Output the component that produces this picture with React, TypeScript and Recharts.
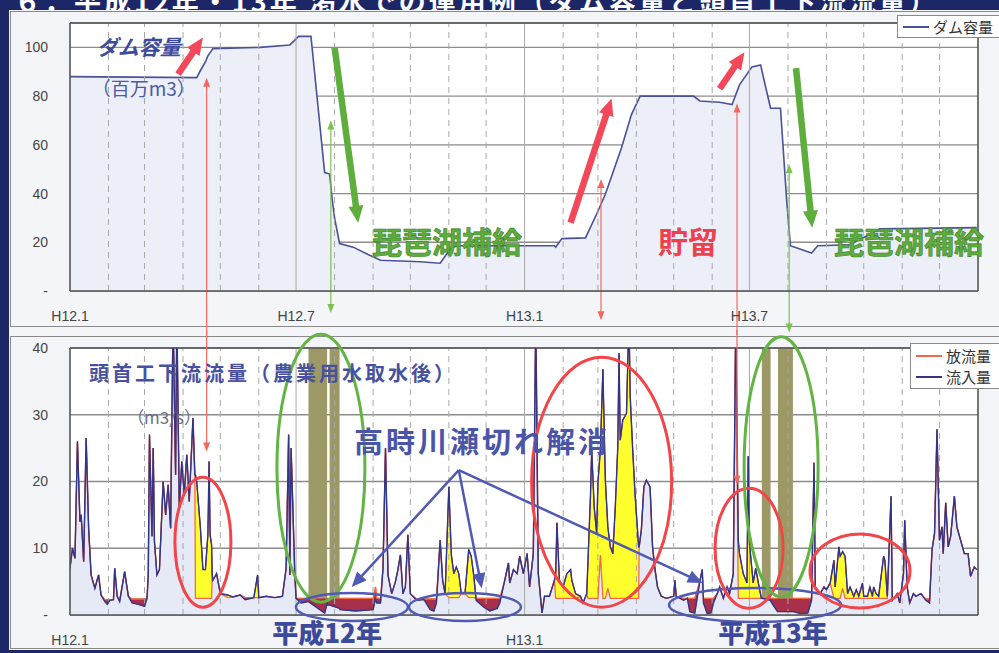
import React from "react";
import {
  ComposedChart,
  Area,
  Line,
  XAxis,
  YAxis,
  CartesianGrid,
  ReferenceLine,
  ReferenceDot,
} from "recharts";

// ---- axis data (days counted from 2000-01-01 = H12.1) ----
const monthStarts = [31, 60, 91, 121, 152, 182, 213, 244, 274, 305, 335, 366, 397, 425, 456, 486, 517, 547, 578, 609, 639, 670, 700];
const halfYearStarts = [182, 366, 547];
const tickDays = [0, 182, 366, 547];
const tickLabels = ["H12.1", "H12.7", "H13.1", "H13.7"];
const flowTickDays = [0, 366];
const damTicks = [0, 20, 40, 60, 80, 100];
const flowTicks = [0, 10, 20, 30, 40];

// ---- dam storage (百万m3) ----
const damDays = [
  0, 102, 105, 109, 111, 115, 153, 177, 181, 184, 194, 205, 209, 211, 213, 217, 228, 240, 250, 282, 298, 303, 308, 313, 390,
  391, 396, 415, 424, 431, 444, 452, 459, 502, 507, 523, 533, 539, 549, 556, 559, 564, 572, 577, 580, 597, 602, 628, 652, 730,
];
const damValues = [
  88, 87.6, 90.5, 94, 96.5, 99.5, 100, 101, 103, 104.5, 104.5, 48.6, 48, 38, 30, 19.5, 18, 15, 12.6, 12, 11.4, 15, 18, 18.6, 18.6,
  18, 21.5, 21.8, 31.6, 39.7, 58.8, 72.4, 80, 80, 78, 77.5, 76.5, 84.6, 92, 92.8, 86, 75, 75, 37, 18.6, 15.6, 18.6, 19, 25.5, 26,
];

// ---- flow below the headworks (m3/s) ----
const flowDays = [
  0, 2, 4, 6, 8, 9, 11, 13, 15, 17, 20, 23,
  25, 28, 30, 32, 35, 36, 38, 40, 44, 47, 50, 55,
  60, 62, 63, 64, 66, 67, 68, 70, 72, 75, 77, 79,
  81, 83, 85, 86, 88, 90, 92, 94, 96, 99, 100.5, 101,
  102, 105, 107, 109, 111, 112, 112.8, 114, 114.5, 115, 118, 121,
  127, 131, 137, 141, 148, 151, 152, 158, 165, 171, 174, 176,
  177, 178, 181, 182, 186, 191.5, 192, 205, 207, 207.4, 208.6, 209,
  217, 217.4, 230, 244, 246, 247, 250, 252, 254, 256, 259, 262,
  264, 266, 268, 270, 272, 274, 279, 285, 290, 293, 295, 298,
  300, 302, 305, 307, 309, 311, 313, 315, 318, 321, 323, 325,
  327, 333, 338, 344, 346, 350, 353, 354, 357, 360, 362, 365,
  368, 370, 373, 375, 377, 380, 382, 386, 390, 391, 392, 394,
  397, 400, 403, 404, 407, 411, 413, 416, 417, 419, 420, 422,
  424, 425, 427, 429, 431, 433, 435, 437, 439, 441, 442, 443,
  445, 448, 450, 451, 453, 455, 457.8, 458.2, 460, 462, 464, 467,
  469, 471, 473, 476, 480, 486, 487, 488, 494, 497, 499, 503,
  507, 509, 510, 513, 516, 518, 521, 523, 526, 529, 531, 534,
  536, 538, 539, 542, 545, 546, 547, 550, 552, 555, 556.6, 557,
  564, 564.4, 566, 569.6, 570, 582, 582.4, 588, 594, 597, 599, 600,
  604, 607, 609, 612, 615, 616, 619, 620, 622, 624, 626, 628,
  631, 633, 635, 638, 639, 642, 644, 646, 647, 649, 651, 655,
  656, 658, 661, 662, 666, 668, 671, 672, 674, 676, 679, 681,
  685, 689, 692, 694, 696, 698, 700, 702, 703, 705, 707, 709,
  712, 714, 717, 720, 723, 725, 728, 730,
];
const inflow = [
  7, 10, 8.5, 26, 14, 15, 8, 26.5, 13, 6, 4, 6,
  3, 2, 1.6, 2.2, 2.3, 7, 2.8, 2, 6.5, 2.8, 1.8, 1.6,
  1.3, 2.5, 6, 27, 11.8, 25, 11, 6, 6.8, 20, 15, 19.5,
  13, 45, 21, 45, 16, 23, 18, 24, 17, 29.5, 21, 21,
  20, 13, 6.8, 6.8, 12, 23, 12, 10.5, 6, 5.2, 6.2, 3.2,
  3, 2.7, 3, 2.3, 2.6, 6, 2.6, 2.8, 2.6, 2.8, 7, 27,
  6, 25, 6, 2.5, 1.8, 2, 2, 0.3, 1.7, 1.5, 1.5, 1.5,
  1, 0.8, 0.6, 0.8, 2.5, 1.8, 1.8, 7, 25, 6, 3.2, 5,
  6.8, 9, 3.2, 4.2, 12, 3.2, 2.2, 2.3, 0.8, 0.6, 1.8, 11.2,
  5.2, 3.2, 19.2, 9, 6.2, 7.2, 6.2, 3.2, 3.2, 9.8, 8.8, 6,
  2.2, 1.2, 0.6, 1, 1.8, 5.2, 7.8, 4.8, 6.8, 6.2, 8.8, 6.2,
  9.2, 4.2, 9.2, 45, 6.2, 0.3, 2.8, 2.8, 5.2, 6, 13.8, 5.2,
  4.2, 6.2, 6.8, 5.2, 3.2, 2.8, 1.8, 3.2, 8, 17.8, 24.8, 16.2,
  12.2, 19.8, 24.8, 36.8, 20.2, 13.2, 10.2, 9.2, 16.2, 25.2, 39.2, 26.2,
  29.2, 30.2, 45, 32.8, 24.8, 17.8, 10.2, 10.2, 12.8, 19.2, 20.2, 19.2,
  10.2, 6.8, 4.2, 2.8, 2.5, 2.8, 5.2, 2.8, 2.2, 2.5, 0.5, 0.3,
  5, 6.8, 1.8, 0.2, 0.3, 1.8, 3.2, 4.2, 2.5, 4.2, 3.2, 6.2,
  45, 11.2, 9.2, 6.2, 4.8, 23.8, 10.8, 4.8, 7, 4, 2.5, 2.5,
  2.2, 2, 1.5, 0.5, 0.5, 0.5, 0.5, 0.2, 0.3, 2.2, 22.8, 4.2,
  3.2, 4.2, 3.8, 4.8, 8.2, 4.2, 10.2, 8.8, 9.5, 8.8, 3.2, 4.2,
  2.8, 3.8, 2.8, 4.8, 2.8, 2.8, 4.2, 2.8, 4.2, 3.2, 2.8, 8.8,
  8.2, 2.8, 17.8, 2.2, 3.2, 1.8, 6.2, 14.2, 4.2, 1.8, 3.2, 2.8,
  3.2, 2.2, 1.8, 9.8, 12.2, 27.8, 11.2, 13.2, 9.2, 16.8, 10.2, 11.8,
  17.8, 13.2, 11.2, 9.2, 9.2, 5.8, 7.2, 6.8,
];
const release = [
  7, 10, 8.5, 26, 14, 15, 8, 26.5, 13, 6, 4, 6,
  3, 2.3, 2.3, 2.3, 2.3, 7, 2.8, 2.3, 6.5, 2.8, 2.4, 2.4,
  2.4, 2.5, 6, 27, 11.8, 25, 11, 6, 6.8, 20, 15, 19.5,
  13, 45, 21, 45, 16, 23, 18, 24, 17, 29.5, 21, 2.5,
  2.5, 2.5, 2.5, 2.5, 2.5, 2.5, 2.5, 2.5, 6, 5.2, 6.2, 3.2,
  2.6, 2.7, 3, 2.6, 2.6, 2.6, 2.6, 2.8, 2.6, 2.8, 7, 27,
  6, 25, 6, 2.5, 2.5, 2.5, 45, 45, 45, 2.5, 2.5, 45,
  45, 2.5, 2.5, 2.5, 4.2, 2.5, 2.5, 7, 25, 6, 3.2, 5,
  6.8, 9, 3.2, 4.2, 12, 3.2, 2.4, 2.4, 2.4, 2.4, 2.4, 11.2,
  5.2, 3.2, 2.6, 2.6, 2.6, 2.6, 2.6, 3.2, 3.2, 2.6, 2.6, 2.6,
  2.5, 2.5, 2.5, 2.5, 2.5, 5.2, 7.8, 4.8, 6.8, 6.2, 8.8, 6.2,
  9.2, 4.2, 9.2, 45, 6.2, 0.3, 2.8, 2.8, 5.2, 2.5, 2.5, 2.5,
  2.5, 2.5, 2.5, 2.5, 2.5, 2.8, 1.8, 3.2, 2.5, 2.5, 2.5, 2.5,
  2.5, 2.5, 9, 2.5, 2.5, 4, 2.5, 2.5, 2.5, 2.5, 2.5, 2.5,
  2.5, 2.5, 2.5, 2.5, 2.5, 2.5, 2.5, 10.2, 12.8, 19.2, 20.2, 19.2,
  10.2, 6.8, 4.2, 2.8, 2.5, 2.8, 5.2, 2.8, 2.5, 2.5, 2.5, 2.5,
  5, 6.8, 2.5, 2.5, 2.5, 2.5, 3.2, 4.2, 2.5, 4.2, 3.2, 6.2,
  45, 2.5, 2.5, 2.5, 2.5, 2.5, 2.5, 2.5, 2.5, 2.5, 2.5, 45,
  45, 2.5, 2.5, 2.5, 45, 45, 2.5, 2.5, 2.5, 2.5, 22.8, 4.2,
  3.2, 4.2, 3.8, 4.8, 2.5, 2.5, 2.5, 2.5, 4, 2.5, 2.5, 2.5,
  2.5, 2.5, 2.5, 2.5, 2.5, 2.5, 2.5, 2.5, 2.5, 2.5, 2.5, 2.5,
  2.5, 2.5, 17.8, 2.2, 3.2, 1.8, 6.2, 14.2, 4.2, 1.8, 3.2, 2.8,
  3.2, 2.4, 2.4, 9.8, 12.2, 27.8, 11.2, 13.2, 9.2, 16.8, 10.2, 11.8,
  17.8, 13.2, 11.2, 9.2, 9.2, 5.8, 7.2, 6.8,
];
// maintenance flow held while the dam supplies water
const MAINT_FLOW = 2.5;

const damData = damDays.map((day, i) => ({ day, value: damValues[i] }));
const flowData = flowDays.map((day, i) => {
  const q = inflow[i];
  const r = release[i];
  const bigSupply = r > 40 && q < 40;
  return {
    day,
    inflow: q,
    release: bigSupply ? null : r,
    stored: q > r ? [r, q] : [r, r],
    supplied: q < r ? [q, bigSupply ? MAINT_FLOW : r] : [q, q],
    drawdown: bigSupply ? [MAINT_FLOW, r] : null,
  };
});

const RED = "#f4485a";
const GREEN = "#5dae3c";
const THIN_RED = "#f26a5e";
const THIN_GREEN = "#7cc24e";
const BLUE = "#5059b4";
const NAVY_TEXT = "#47519f";
const JP = '"Noto Sans CJK JP", "Noto Sans", sans-serif';
const NUM = '"Liberation Sans", Arial, sans-serif';

// annotations (day, value)
const damBoldArrows = [
  { from: [87, 89], to: [107, 104], color: RED },
  { from: [213, 100], to: [232, 28], color: GREEN },
  { from: [403, 28], to: [436, 79], color: RED },
  { from: [523, 83], to: [543, 98], color: RED },
  { from: [584.5, 91.5], to: [597.5, 26], color: GREEN },
];
const damGuideArrows = [
  { from: [110, -18], to: [110, 87.5], color: THIN_RED, both: false },
  { from: [210, -9], to: [210, 70], color: THIN_GREEN, both: true },
  { from: [427.5, -12], to: [427.5, 46], color: THIN_RED, both: true },
  { from: [537, -18], to: [537, 77], color: THIN_RED, both: false },
  { from: [579, -17], to: [579, 52], color: THIN_GREEN, both: true },
];
const flowGuideArrows = [
  { from: [110, 45], to: [110, 24.5], color: THIN_RED },
  { from: [537, 45], to: [537, 19.5], color: THIN_RED },
];
const flowBlueArrows = [
  { from: [313, 21.7], to: [226.8, 4.2] },
  { from: [313, 21.7], to: [331.5, 4] },
  { from: [313, 21.7], to: [509.4, 4.8] },
];
const flowEllipses = [
  { day: 107, value: 10.9, rx: 28, ry: 65, color: "#f2454a" },
  { day: 202, value: 22, rx: 44, ry: 134, color: "#62b443" },
  { day: 227, value: 1.2, rx: 56, ry: 14, color: BLUE },
  { day: 318, value: 1.2, rx: 56, ry: 14, color: BLUE },
  { day: 428, value: 19.9, rx: 70, ry: 125, color: "#f2454a" },
  { day: 551.5, value: 1.5, rx: 86, ry: 17, color: BLUE },
  { day: 546.7, value: 10, rx: 34, ry: 60, color: "#f2454a" },
  { day: 572.5, value: 22.2, rx: 37, ry: 130, color: "#62b443" },
  { day: 636, value: 6.6, rx: 50, ry: 37, color: "#f2454a" },
];

function headPoints(x: number, y: number, ang: number, len: number, wid: number) {
  const bx = x - len * Math.cos(ang);
  const by = y - len * Math.sin(ang);
  const nx = (-Math.sin(ang) * wid) / 2;
  const ny = (Math.cos(ang) * wid) / 2;
  return `${x},${y} ${bx + nx},${by + ny} ${bx - nx},${by - ny}`;
}

const arrowShape =
  (color: string, width: number, len: number, wid: number, both = false) =>
  (p: any) => {
    const { x1, y1, x2, y2 } = p;
    if (![x1, y1, x2, y2].every((v) => Number.isFinite(v))) return <g />;
    const ang = Math.atan2(y2 - y1, x2 - x1);
    const cut = len * 0.75;
    const sx = both ? x1 + cut * Math.cos(ang) : x1;
    const sy = both ? y1 + cut * Math.sin(ang) : y1;
    return (
      <g>
        <line x1={sx} y1={sy} x2={x2 - cut * Math.cos(ang)} y2={y2 - cut * Math.sin(ang)} stroke={color} strokeWidth={width} />
        <polygon points={headPoints(x2, y2, ang, len, wid)} fill={color} />
        {both && <polygon points={headPoints(x1, y1, ang + Math.PI, len, wid)} fill={color} />}
      </g>
    );
  };

const textShape =
  (label: string, style: React.SVGProps<SVGTextElement>) =>
  (p: any) =>
    (
      <text x={p.cx} y={p.cy} dominantBaseline="central" fontFamily={JP} {...style}>
        {label}
      </text>
    );

const ellipseShape = (rx: number, ry: number, color: string, w: number) => (p: any) =>
  <ellipse cx={p.cx} cy={p.cy} rx={rx} ry={ry} fill="none" stroke={color} strokeWidth={w} />;

const tickName = (v: number) => tickLabels[tickDays.indexOf(v)] ?? "";
const yFmt = (v: number) => (v === 0 ? "-" : String(v));

function monthLines() {
  return monthStarts.map((d) => (
    <ReferenceLine
      key={`m${d}`}
      x={d}
      stroke="#a8a8a8"
      strokeWidth={1}
      strokeDasharray={halfYearStarts.includes(d) ? undefined : "6 5"}
    />
  ));
}

function DamChart() {
  return (
    <ComposedChart width={999} height={336} data={damData} margin={{ top: 23, right: 21, bottom: 15, left: 20 }}>
      <CartesianGrid vertical={false} stroke="#8c8c8c" strokeWidth={1.3} fill="#ffffff" />
      <XAxis
        dataKey="day"
        type="number"
        domain={[0, 731]}
        ticks={tickDays}
        tickFormatter={tickName}
        allowDataOverflow
        height={30}
        tickLine={false}
        tickMargin={14}
        axisLine={{ stroke: "#555", strokeWidth: 1.6 }}
        tick={{ fill: "#444", fontSize: 14, fontFamily: NUM }}
      />
      <YAxis
        type="number"
        domain={[0, 110]}
        ticks={damTicks}
        tickFormatter={yFmt}
        allowDataOverflow
        width={50}
        tickLine={false}
        tickMargin={16}
        axisLine={{ stroke: "#555", strokeWidth: 1.6 }}
        tick={{ fill: "#444", fontSize: 14, fontFamily: NUM }}
      />
      {monthLines()}
      <ReferenceLine y={110} stroke="#555" strokeWidth={1.6} />
      <ReferenceLine x={731} stroke="#555" strokeWidth={1.6} />
      <Area
        dataKey="value"
        type="linear"
        stroke="#4b5199"
        strokeWidth={1.6}
        fill="#eceff8"
        fillOpacity={1}
        dot={false}
        activeDot={false}
        isAnimationActive={false}
      />
      {damGuideArrows.map((a, i) => (
        <ReferenceLine
          key={`dg${i}`}
          segment={[{ x: a.from[0], y: a.from[1] }, { x: a.to[0], y: a.to[1] }]}
          ifOverflow="visible"
          shape={arrowShape(a.color, 1.2, 9, 7, a.both)}
        />
      ))}
      {damBoldArrows.map((a, i) => (
        <ReferenceLine
          key={`db${i}`}
          segment={[{ x: a.from[0], y: a.from[1] }, { x: a.to[0], y: a.to[1] }]}
          ifOverflow="visible"
          shape={arrowShape(a.color, 6.5, 17, 15)}
        />
      ))}
      <ReferenceDot x={21.5} y={100.6} r={0} ifOverflow="visible"
        shape={textShape("ダム容量", { fontSize: 21, fontWeight: 700, fontStyle: "italic", fill: "#3f4a9a" })} />
      <ReferenceDot x={17.5} y={83.5} r={0} ifOverflow="visible"
        shape={textShape("（百万m3）", { fontSize: 19, fill: "#4d5aa6" })} />
      <ReferenceDot x={303.5} y={21} r={0} ifOverflow="visible"
        shape={textShape("琵琶湖補給", { fontSize: 30, fontWeight: 700, fill: GREEN, stroke: "#3d7d2a", strokeWidth: 0.6, textAnchor: "middle" })} />
      <ReferenceDot x={497.6} y={21} r={0} ifOverflow="visible"
        shape={textShape("貯留", { fontSize: 30, fontWeight: 700, fill: "#f0404c", textAnchor: "middle" })} />
      <ReferenceDot x={675.5} y={21} r={0} ifOverflow="visible"
        shape={textShape("琵琶湖補給", { fontSize: 30, fontWeight: 700, fill: GREEN, stroke: "#3d7d2a", strokeWidth: 0.6, textAnchor: "middle" })} />
    </ComposedChart>
  );
}

function FlowChart() {
  return (
    <ComposedChart width={999} height={323} data={flowData} margin={{ top: 18, right: 21, bottom: 8, left: 20 }}>
      <CartesianGrid vertical={false} stroke="#8c8c8c" strokeWidth={1.3} fill="#ffffff" />
      <XAxis
        dataKey="day"
        type="number"
        domain={[0, 731]}
        ticks={flowTickDays}
        tickFormatter={tickName}
        allowDataOverflow
        height={30}
        tickLine={false}
        tickMargin={14}
        axisLine={{ stroke: "#555", strokeWidth: 1.6 }}
        tick={{ fill: "#444", fontSize: 14, fontFamily: NUM }}
      />
      <YAxis
        type="number"
        domain={[0, 40]}
        ticks={flowTicks}
        tickFormatter={yFmt}
        allowDataOverflow
        width={50}
        tickLine={false}
        tickMargin={16}
        axisLine={{ stroke: "#555", strokeWidth: 1.6 }}
        tick={{ fill: "#444", fontSize: 14, fontFamily: NUM }}
      />
      {monthLines()}
      <ReferenceLine y={40} stroke="#555" strokeWidth={1.6} />
      <ReferenceLine x={731} stroke="#555" strokeWidth={1.6} />
      <Area dataKey="inflow" type="linear" stroke="none" fill="#e6eaf6" fillOpacity={1} dot={false} activeDot={false} isAnimationActive={false} />
      <Area dataKey="stored" type="linear" stroke="none" fill="#ffff2e" fillOpacity={1} dot={false} activeDot={false} isAnimationActive={false} />
      <Area dataKey="supplied" type="linear" stroke="#e0383c" strokeWidth={0.8} fill="#a8304a" fillOpacity={1} dot={false} activeDot={false} isAnimationActive={false} />
      <Area dataKey="drawdown" type="linear" stroke="none" fill="#9c9966" fillOpacity={1} dot={false} activeDot={false} isAnimationActive={false} />
      <Line dataKey="release" type="linear" stroke="#f26a45" strokeWidth={1.3} dot={false} activeDot={false} isAnimationActive={false} />
      <Line dataKey="inflow" type="linear" stroke="#2f3587" strokeWidth={1.4} dot={false} activeDot={false} isAnimationActive={false} />
      {flowGuideArrows.map((a, i) => (
        <ReferenceLine
          key={`fg${i}`}
          segment={[{ x: a.from[0], y: a.from[1] }, { x: a.to[0], y: a.to[1] }]}
          ifOverflow="visible"
          shape={arrowShape(a.color, 1.2, 9, 7)}
        />
      ))}
      {flowEllipses.map((e, i) => (
        <ReferenceDot key={`fe${i}`} x={e.day} y={e.value} r={0} ifOverflow="visible"
          shape={ellipseShape(e.rx, e.ry, e.color, e.color === BLUE ? 2.5 : 3)} />
      ))}
      {flowBlueArrows.map((a, i) => (
        <ReferenceLine
          key={`fb${i}`}
          segment={[{ x: a.from[0], y: a.from[1] }, { x: a.to[0], y: a.to[1] }]}
          ifOverflow="visible"
          shape={arrowShape(BLUE, 2.5, 15, 13)}
        />
      ))}
      <ReferenceDot x={15.3} y={36.4} r={0} ifOverflow="visible"
        shape={textShape("頭首工下流流量（農業用水取水後）", { fontSize: 20, fontWeight: 700, fill: NAVY_TEXT, letterSpacing: 3 })} />
      <ReferenceDot x={46} y={29.8} r={0} ifOverflow="visible"
        shape={textShape("（m3/s）", { fontSize: 17, fill: "#6a6f88" })} />
      <ReferenceDot x={228.7} y={26.2} r={0} ifOverflow="visible"
        shape={textShape("高時川瀬切れ解消", { fontSize: 29, fontWeight: 700, fill: "#4b55a8", letterSpacing: 3 })} />
      <ReferenceDot x={207} y={-2.5} r={0} ifOverflow="visible"
        shape={textShape("平成12年", { fontSize: 26, fontWeight: 900, fill: "#3d4a9c", textAnchor: "middle" })} />
      <ReferenceDot x={566} y={-2.5} r={0} ifOverflow="visible"
        shape={textShape("平成13年", { fontSize: 26, fontWeight: 900, fill: "#3d4a9c", textAnchor: "middle" })} />
    </ComposedChart>
  );
}

const legendBox: React.CSSProperties = {
  position: "absolute",
  background: "#fff",
  border: "1px solid #8a8a8a",
  fontFamily: JP,
  color: "#333",
  fontSize: 15,
  lineHeight: "21px",
  whiteSpace: "nowrap",
  boxSizing: "border-box",
};

function LegendRow({ color, label }: { color: string; label: string }) {
  return (
    <div style={{ display: "flex", alignItems: "center" }}>
      <span style={{ display: "inline-block", width: 26, height: 2, background: color, marginRight: 4 }} />
      {label}
    </div>
  );
}

export default function App() {
  return (
    <div style={{ position: "absolute", left: 0, top: 0, width: 999, height: 653, background: "#1d2767", overflow: "hidden" }}>
      <div
        style={{
          position: "absolute",
          left: 14,
          top: -19,
          color: "#fff",
          fontFamily: JP,
          fontWeight: 700,
          fontSize: 27,
          letterSpacing: 3,
          whiteSpace: "nowrap",
        }}
      >
        ６．平成12年・13年 渇水での運用例（ダム容量と頭首工下流流量）
      </div>
      <div style={{ position: "absolute", left: 9, top: 10, width: 995, height: 640, background: "#f4f5f8" }} />
      <div style={{ position: "absolute", left: 10, top: 11, width: 995, height: 314, border: "1.5px solid #8a8a8a" }} />
      <div style={{ position: "absolute", left: 10, top: 336, width: 995, height: 311, border: "1.5px solid #8a8a8a" }} />
      <div style={{ position: "absolute", left: 0, top: 0 }}>
        <DamChart />
      </div>
      <div style={{ position: "absolute", left: 0, top: 330 }}>
        <FlowChart />
      </div>
      <div style={{ ...legendBox, left: 897, top: 15, width: 104, height: 23, paddingLeft: 5 }}>
        <LegendRow color="#4b5199" label="ダム容量" />
      </div>
      <div style={{ ...legendBox, left: 910, top: 343, width: 92, height: 46, paddingLeft: 5, paddingTop: 1 }}>
        <LegendRow color="#f26a45" label="放流量" />
        <LegendRow color="#2f3587" label="流入量" />
      </div>
    </div>
  );
}
